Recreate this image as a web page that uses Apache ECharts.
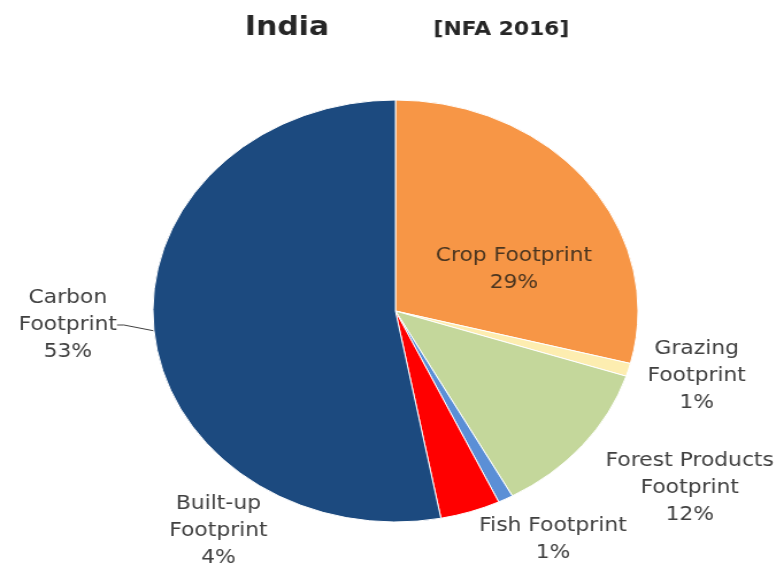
<!DOCTYPE html>
<html>
<head>
<meta charset="utf-8">
<script src="https://cdn.jsdelivr.net/npm/echarts@6/dist/echarts.min.js"></script>
<style>
  html, body { margin: 0; padding: 0; background: #fff; overflow: hidden; }
  /* the reference picture is stretched sideways, so the chart is too */
  #chart { width: 682px; height: 569px; transform: scaleX(1.1496); transform-origin: 0 0; }
</style>
</head>
<body>
<div id="chart"></div>
<script>
const categories = [
  "Crop Footprint",
  "Grazing\nFootprint",
  "Forest Products\nFootprint",
  "Fish Footprint",
  "Built-up\nFootprint",
  "Carbon\nFootprint"
];
const shares = [29, 1, 12, 1, 4, 53];
const colors = ["#f79646", "#fdedb0", "#c4d79b", "#5b8fd6", "#ff0000", "#1c4a7f"];

// where each label sits (chart pixels, before the sideways stretch)
const labelSpots = [
  [447, 270], [606, 376], [600, 488], [481, 540], [190, 531], [59, 325]
];

const chart = echarts.init(document.getElementById("chart"));

chart.setOption({
  animation: false,
  title: [
    {
      text: "India", left: 208, top: 10,
      textStyle: { fontFamily: "DejaVu Sans", fontSize: 26, fontWeight: "bold", color: "#262626" }
    },
    {
      text: "[NFA 2016]", left: 372, top: 16,
      textStyle: { fontFamily: "DejaVu Sans", fontSize: 19, fontWeight: "bold", color: "#262626" }
    }
  ],
  series: [
    {
      type: "pie",
      center: [344, 311],
      radius: 211,
      startAngle: 90,
      clockwise: true,
      itemStyle: { borderColor: "#fff", borderWidth: 1 },
      label: {
        show: true,
        fontFamily: "DejaVu Sans",
        fontSize: 19,
        lineHeight: 27,
        color: "#404040",
        align: "center",
        overflow: "none",
        formatter: p => p.name + "\n" + p.value + "%"
      },
      labelLine: { show: false },
      labelLayout: p => ({
        x: labelSpots[p.dataIndex][0],
        y: labelSpots[p.dataIndex][1],
        align: "center",
        verticalAlign: "middle"
      }),
      data: categories.map((name, i) => ({
        name,
        value: shares[i],
        itemStyle: { color: colors[i] },
        label: i === 0 ? { color: "#4a3520" } : undefined,
        labelLine: i === 5
          ? { show: true, length: 6, length2: 6, lineStyle: { color: "#404040", width: 1 } }
          : { show: false }
      }))
    }
  ]
});
</script>
</body>
</html>
